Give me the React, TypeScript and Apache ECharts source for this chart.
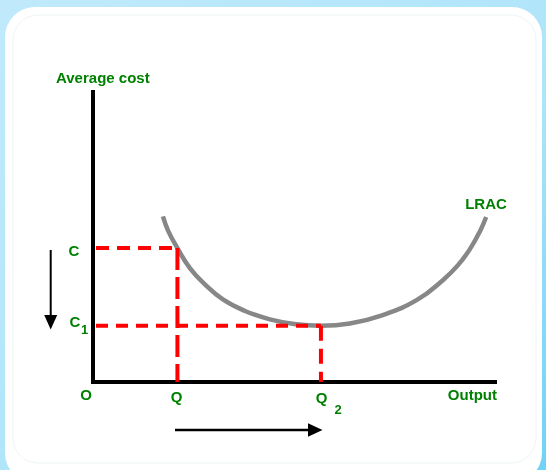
import React, { useEffect, useRef } from "react";
import * as echarts from "echarts";

// LRAC curve (output, average cost), arbitrary 0-100 units
const lracOutput = [17.4, 18.7, 21.0, 24.1, 27.9, 32.3, 37.8, 44.0, 50.5, 56.7, 63.9, 72.1, 80.6, 87.1, 90.8, 93.8, 96.3, 97.8];
const lracCost = [57.1, 52.1, 46.2, 39.3, 33.6, 28.5, 24.5, 21.6, 19.9, 19.4, 20.2, 23.1, 28.3, 35.2, 40.3, 45.9, 52.1, 56.9];

// Output levels Q, Q2 and cost levels C, C1
const outputLevels = [21.0, 56.7];
const costLevels = [46.2, 19.4];
const axisStart = 0.75;

const GREEN = "#008000";
const FONT = '"Liberation Sans", Arial, sans-serif';

export default function App() {
  const ref = useRef<HTMLDivElement>(null);

  useEffect(() => {
    if (!ref.current) return;
    const chart = echarts.init(ref.current, null, { renderer: "svg" });

    const curve = lracOutput.map((x, i) => [x, lracCost[i]]);
    const [q1, q2] = outputLevels;
    const [c1, c2] = costLevels;

    const dashed = (data: number[][], dash: number[]) => ({
      type: "line",
      data,
      symbol: "none",
      silent: true,
      lineStyle: { color: "#ff0000", width: 4, type: dash, cap: "butt" },
      z: 5,
    });

    const txt = (text: string, x: number, y: number, size: number, align = "center") => ({
      type: "text",
      x,
      y,
      z: 100,
      style: {
        text,
        fill: GREEN,
        font: `bold ${size}px ${FONT}`,
        align,
        verticalAlign: "middle",
      },
    });

    chart.setOption({
      animation: false,
      grid: { left: 93, top: 92, right: 51, bottom: 88 },
      xAxis: {
        type: "value",
        min: 0,
        max: 100,
        axisLine: { show: true, onZero: false, lineStyle: { color: "#000", width: 4, cap: "square" } },
        axisTick: { show: false },
        axisLabel: { show: false },
        splitLine: { show: false },
      },
      yAxis: {
        type: "value",
        min: 0,
        max: 100,
        axisLine: { show: true, onZero: false, lineStyle: { color: "#000", width: 4, cap: "square" } },
        axisTick: { show: false },
        axisLabel: { show: false },
        splitLine: { show: false },
      },
      series: [
        {
          type: "line",
          data: curve,
          smooth: 0.45,
          symbol: "none",
          silent: true,
          lineStyle: { color: "#878787", width: 4.5 },
          z: 3,
        },
        dashed([[axisStart, c1], [q1, c1]], [13, 8]),
        dashed([[q1, c1], [q1, 0]], [22, 7]),
        dashed([[axisStart, c2], [q2, c2]], [12, 8]),
        dashed([[q2, c2], [q2, 0]], [15, 8]),
      ],
      graphic: [
        {
          type: "rect",
          z: -20,
          silent: true,
          shape: { x: 0, y: 0, width: 546, height: 470 },
          style: {
            fill: new echarts.graphic.LinearGradient(0, 0, 1, 1, [
              { offset: 0, color: "#c0eafb" },
              { offset: 0.6, color: "#aee4fa" },
              { offset: 1, color: "#6fd2f6" },
            ]),
          },
        },
        {
          type: "rect",
          z: -19,
          silent: true,
          shape: { x: 5, y: 7, width: 537, height: 476, r: 30 },
          style: { fill: "#ffffff" },
        },
        {
          type: "rect",
          z: -18,
          silent: true,
          shape: { x: 13, y: 15, width: 523, height: 448, r: 25 },
          style: { fill: "none", stroke: "#eef5f7", lineWidth: 1 },
        },
        txt("Average cost", 56, 77.5, 15, "left"),
        txt("C", 74, 250.5, 15),
        txt("C", 75, 321.5, 15),
        txt("1", 84.5, 329, 13),
        txt("O", 86, 394.5, 15),
        txt("Q", 176.7, 396.5, 15),
        txt("Q", 321.7, 397.5, 15),
        txt("2", 338, 409, 13),
        txt("Output", 497, 394.7, 15, "right"),
        txt("LRAC", 486, 203.8, 15),
        // arrows
        {
          type: "line",
          z: 50,
          silent: true,
          shape: { x1: 50.7, y1: 250, x2: 50.7, y2: 316 },
          style: { stroke: "#000", lineWidth: 2 },
        },
        {
          type: "polygon",
          z: 50,
          silent: true,
          shape: { points: [[44.2, 315], [57.2, 315], [50.7, 329.5]] },
          style: { fill: "#000" },
        },
        {
          type: "line",
          z: 50,
          silent: true,
          shape: { x1: 175, y1: 430, x2: 309, y2: 430 },
          style: { stroke: "#000", lineWidth: 2.5 },
        },
        {
          type: "polygon",
          z: 50,
          silent: true,
          shape: { points: [[308, 423.3], [308, 436.7], [322.5, 430]] },
          style: { fill: "#000" },
        },
      ],
    });

    return () => chart.dispose();
  }, []);

  return (
    <div
      ref={ref}
      style={{ position: "fixed", left: 0, top: 0, width: 546, height: 470 }}
    />
  );
}
